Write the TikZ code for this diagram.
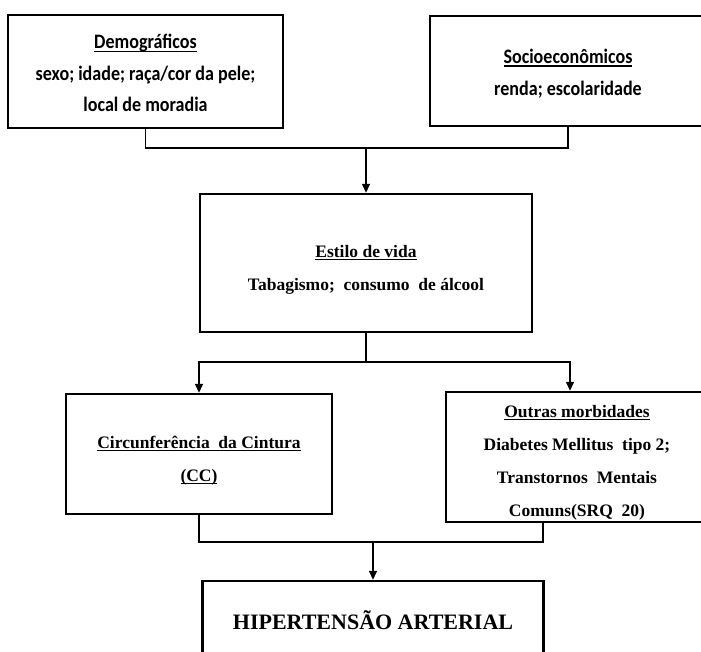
\documentclass[tikz,border=0pt]{standalone}
\usepackage{fontspec}
\newfontfamily\calfont[FakeStretch=0.88]{Carlito}
\newfontfamily\timesfont{Liberation Serif}
\usetikzlibrary{arrows.meta}
\newcommand{\undl}[1]{\setbox0\hbox{#1}\leavevmode\rlap{\rule[-2.8pt]{\wd0}{1.2pt}}\box0}

\begin{document}
\begin{tikzpicture}[x=1pt,y=-1pt]
    \tikzstyle{every node}+=[inner sep=0pt]
    \tikzstyle{topbox}=[draw=black, line width=2.4pt, align=center, font=\calfont\bfseries\fontsize{20.5}{31.5}\selectfont]
    \tikzstyle{lowbox}=[draw=black, line width=2.4pt, align=center, font=\timesfont\bfseries\fontsize{17.5}{33}\selectfont]
    \tikzstyle{link}=[black, line width=1.4pt]
    \tikzstyle{linkarrow}=[link, -{Triangle[length=9pt,width=8pt]}]
    \useasboundingbox (0,0) rectangle (701,651);
    \clip (0,0) rectangle (701,651);
    % factor boxes
    \node [topbox, minimum width=275, minimum height=113] (demo) at (145.5,71.5) {\rule{0pt}{18pt}\undl{Demográficos}\\ sexo; idade; raça/cor da pele;\\ local de moradia};
    \node [topbox, minimum width=276, minimum height=110] (socio) at (568,71) {\rule{0pt}{20pt}\undl{Socioeconômicos}\\ renda; escolaridade};
    \node [lowbox, minimum width=332, minimum height=138] (estilo) at (366,263) {\rule{0pt}{26pt}\undl{Estilo de vida}\\ Tabagismo;\ \ consumo\ \ de álcool};
    \node [lowbox, minimum width=266, minimum height=120] (circ) at (199,454) {\rule{0pt}{26pt}\undl{Circunferência\ \ da Cintura}\\ \undl{(CC)}};
    \node [lowbox, minimum width=262, minimum height=130] (outras) at (577,457) {\rule{0pt}{24pt}\undl{Outras morbidades}\\ Diabetes Mellitus\ \ tipo 2;\\ Transtornos\ \ Mentais\\ Comuns(SRQ\ \ 20)};
    \node [lowbox, font=\timesfont\bfseries\fontsize{22}{26}\selectfont, minimum width=341, minimum height=78] (hiper) at (373,620) {HIPERTENSÃO ARTERIAL};
    % connectors
    \coordinate (j1) at (366,148);
    \draw [link] (demo.south) |- (j1) -| (socio.south);
    \draw [linkarrow] (j1) -- (estilo.north);
    \coordinate (j2) at (366,362);
    \draw [link] (estilo.south) -- (j2);
    \draw [linkarrow] (j2) -| (circ.north);
    \draw [linkarrow] (j2) -| ([xshift=-7pt]outras.north);
    \coordinate (j3) at (373,542);
    \draw [link] (circ.south) |- (j3) -| ([xshift=-34pt]outras.south);
    \draw [linkarrow] (j3) -- (hiper.north);
\end{tikzpicture}
\end{document}
